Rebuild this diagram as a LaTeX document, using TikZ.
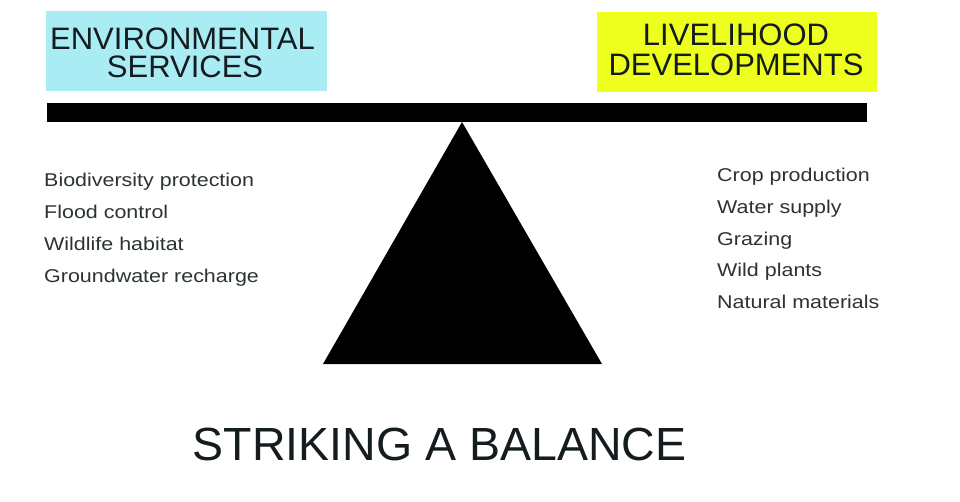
\documentclass[tikz,border=0pt]{standalone}
\usepackage{fontspec}
\setmainfont{Liberation Sans}
\newfontfamily\listfont[FakeStretch=1.16]{Liberation Sans}
\definecolor{envcyan}{RGB}{170,236,244}
\definecolor{liveyellow}{RGB}{238,255,30}
\definecolor{ink}{RGB}{20,28,32}
\begin{document}
\begin{tikzpicture}[x=1pt,y=-1pt,
  headbox/.style={draw=none,inner sep=0pt,minimum width=#1,minimum height=80pt},
  headtext/.style={anchor=base,inner sep=0pt,text=ink,font=\fontsize{31}{27}\selectfont},
  item/.style={anchor=base west,inner sep=0pt,text=ink!90,font=\listfont\fontsize{18.5}{22}\selectfont},
  ]
\useasboundingbox (0,0) rectangle (960,501);
\fill[white] (0,0) rectangle (960,501);

% header panels
\node[headbox=281pt,fill=envcyan] (envbox) at (186.5,50.5) {};
\node[headbox=280pt,fill=liveyellow] (livebox) at (737,51.5) {};
\node[headtext] (env1) at (182.5,49) {ENVIRONMENTAL};
\node[headtext] (env2) at (185,77.5) {SERVICES};
\node[headtext] (live1) at (736,45) {LIVELIHOOD};
\node[headtext] (live2) at (736,75.5) {DEVELOPMENTS};

% the beam and the fulcrum
\fill[black] (47,103) rectangle (867,122);
\coordinate (apex) at (462,122);
\coordinate (baseL) at (323,364);
\coordinate (baseR) at (602,364);
\fill[black] (apex) -- (baseR) -- (baseL) -- cycle;

% services on the left
\node[item] (s1) at (44,186) {Biodiversity protection};
\node[item] (s2) at (44,218) {Flood control};
\node[item] (s3) at (44,250) {Wildlife habitat};
\node[item] (s4) at (44,282) {Groundwater recharge};

% livelihoods on the right
\node[item] (l1) at (717,181.7) {Crop production};
\node[item] (l2) at (717,213.4) {Water supply};
\node[item] (l3) at (717,245) {Grazing};
\node[item] (l4) at (717,276.7) {Wild plants};
\node[item] (l5) at (717,308.3) {Natural materials};

% caption
\node[anchor=base,inner sep=0pt,text=ink,font=\fontsize{46.5}{50}\selectfont] (title) at (439.5,460) {STRIKING A BALANCE};
\end{tikzpicture}
\end{document}
